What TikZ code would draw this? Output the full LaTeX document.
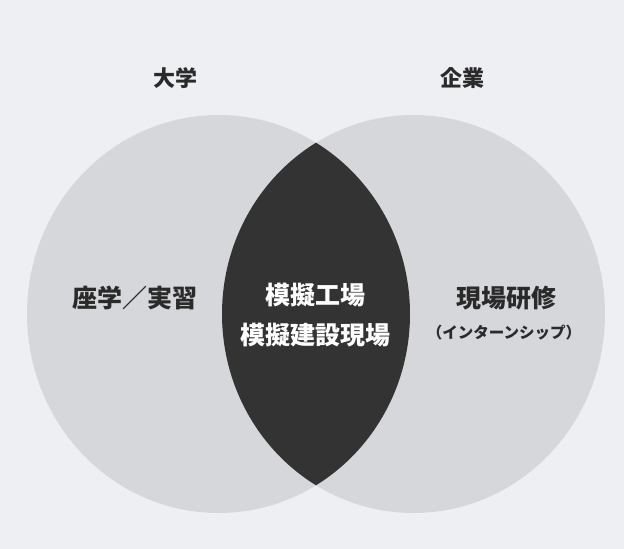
\documentclass[tikz,border=0pt]{standalone}
\usepackage{fontspec}
\newfontfamily\jp{Noto Sans CJK JP}
\definecolor{bgcol}{HTML}{EDEFF2}
\definecolor{circcol}{HTML}{D5D7DB}
\definecolor{lenscol}{HTML}{333333}
\definecolor{txtcol}{HTML}{2A2A2A}
\tikzset{
  lbl/.style={text=txtcol, font=\jp\bfseries\fontsize{25}{29}\selectfont, inner sep=0pt},
  head/.style={text=txtcol, font=\jp\bfseries\fontsize{22}{26}\selectfont, inner sep=0pt},
  small/.style={text=txtcol, font=\jp\bfseries\fontsize{15.5}{18}\selectfont, inner sep=0pt},
  lenslbl/.style={text=white, font=\jp\bfseries\fontsize{25}{40}\selectfont, align=center, inner sep=0pt},
}
\begin{document}
\begin{tikzpicture}[x=1pt,y=1pt]
\fill[bgcol] (0,0) rectangle (624,549);
\useasboundingbox (0,0) rectangle (624,549);
% circles
\fill[circcol] (218.5,235) ellipse [x radius=191.5, y radius=199];
\fill[circcol] (413.5,235) ellipse [x radius=191.5, y radius=199];
% lens
\begin{scope}
  \clip (218.5,235) ellipse [x radius=191.5, y radius=199];
  \fill[lenscol] (413.5,235) ellipse [x radius=191.5, y radius=199];
\end{scope}
% labels
\node[head] (univ) at (175,471) {大学};
\node[head] (corp) at (462,471) {企業};
\node[lbl] (left) at (134.5,251) {座学／実習};
\node[lenslbl] (mid) at (315,234) {模擬工場\\模擬建設現場};
\node[lbl] (right) at (506,251) {現場研修};
\node[small] (intern) at (504,216) {（インターンシップ）};
\end{tikzpicture}
\end{document}
